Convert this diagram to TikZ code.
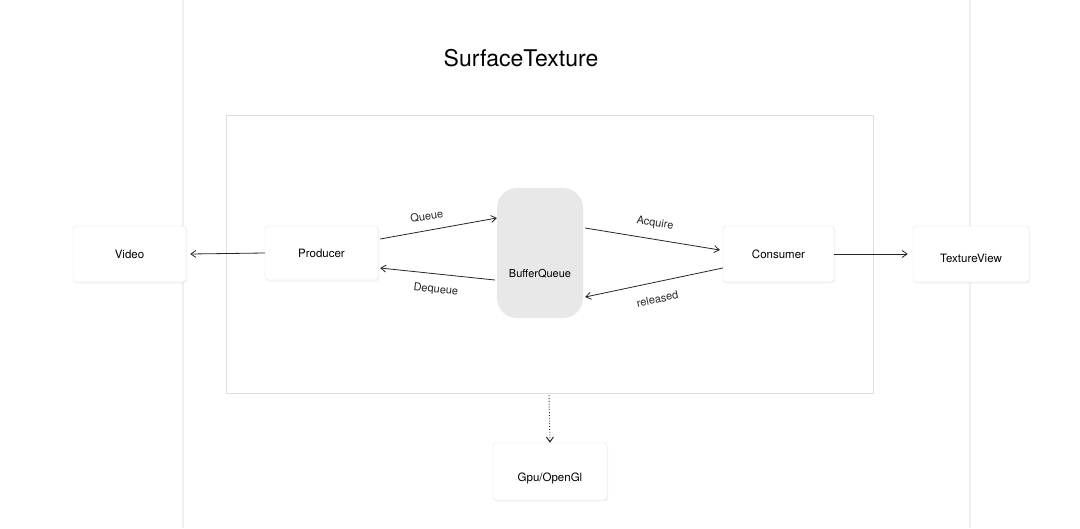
\documentclass[tikz,border=0pt]{standalone}
\usepackage{fontspec}
\setmainfont{TeX Gyre Heros}
\usetikzlibrary{shadows,arrows.meta}
\begin{document}
\begin{tikzpicture}[x=1pt,y=-1pt,
  box/.style={draw=gray!22, rounded corners=3pt, fill=white, minimum width=113pt, minimum height=56pt,
    font=\fontsize{11.5}{13}\selectfont, drop shadow={opacity=0.08, shadow xshift=1pt, shadow yshift=-1.5pt}},
  conn/.style={draw=black!85, line width=0.8pt, -{Straight Barb[length=5pt,width=7pt]}},
  lbl/.style={font=\fontsize{11}{12}\selectfont, text=black!85},
  guide/.style={draw=gray!12, line width=1.2pt}]
\useasboundingbox (0,0) rectangle (1080,528);
\fill[white] (0,0) rectangle (1080,528);
% faint guide lines
\draw[guide] (183,0) -- (183,528);
\draw[guide] (970,0) -- (970,528);
% title
\node[font=\fontsize{23}{27}\selectfont] (title) at (521,58) {SurfaceTexture};
% inner frame
\node[draw=gray!25, line width=0.8pt, minimum width=647pt, minimum height=278pt, inner sep=0pt] (frame) at (549.5,254) {};
% nodes
\node[box] (video) at (129.5,254) {Video};
\node[box, minimum height=54pt] (prod) at (321.5,253) {Producer};
\node[rectangle, rounded corners=20pt, fill=gray!18, minimum width=86pt, minimum height=130pt] (bq) at (540,253)
  {\raisebox{-24pt}[0pt][0pt]{\fontsize{11}{12}\selectfont BufferQueue}};
\node[box, minimum width=111pt] (cons) at (778.5,254) {Consumer};
\node[box, minimum width=116pt] (tv) at (971,254) {\raisebox{-8pt}[0pt][0pt]{TextureView}};
\node[box, minimum width=114pt, minimum height=57pt] (gpu) at (550,471.5) {\raisebox{-9.5pt}[0pt][0pt]{Gpu/OpenGl}};
% connectors
\draw[conn] (prod.west) -- ([xshift=4pt]video.east);
\draw[conn] ([xshift=2pt,yshift=14pt]prod.east) -- node[lbl, sloped, above=6pt, pos=0.42] (lq) {Queue} ([yshift=35pt]bq.west);
\draw[conn] ([xshift=-2pt,yshift=-27pt]bq.west) -- node[lbl, sloped, below=7pt, pos=0.5] (ld) {Dequeue} ([xshift=2pt,yshift=-15pt]prod.east);
\draw[conn] ([xshift=2pt,yshift=25pt]bq.east) -- node[lbl, sloped, above=7pt, pos=0.5] (la) {Acquire} ([xshift=-3pt,yshift=4pt]cons.west);
\draw[conn] ([yshift=-14pt]cons.west) -- node[lbl, sloped, below=9pt, pos=0.5] (lr) {released} ([xshift=2pt,yshift=-44pt]bq.east);
\draw[conn] (cons.east) -- ([xshift=-5pt]tv.west);
\draw[conn, dotted, line width=1pt] ([xshift=-0.5pt,yshift=-2pt]frame.south) -- (gpu.north);
\end{tikzpicture}
\end{document}
